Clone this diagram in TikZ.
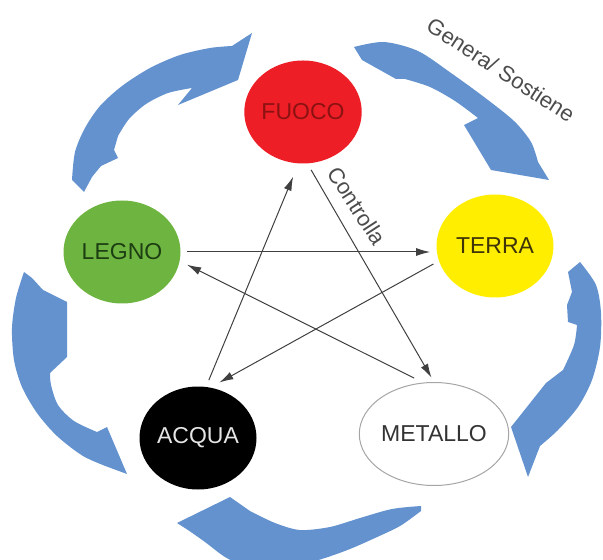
\documentclass[tikz,border=0pt]{standalone}
\usepackage{fontspec}
\setmainfont{Liberation Sans}
\usetikzlibrary{arrows.meta,shapes.geometric}

\definecolor{genblue}{RGB}{99,146,207}
\definecolor{fuocored}{RGB}{237,30,38}
\definecolor{fuocotext}{RGB}{140,18,18}
\definecolor{legnogreen}{RGB}{110,180,64}
\definecolor{legnotext}{RGB}{28,62,18}
\definecolor{terrayellow}{RGB}{255,238,0}
\definecolor{terratext}{RGB}{62,52,8}
\definecolor{metallogray}{RGB}{165,165,165}

\begin{document}
\begin{tikzpicture}[x=0.5pt,y=-0.5pt,
  elem/.style={ellipse,minimum width=58.5pt,minimum height=51.5pt,inner sep=0pt,
    font=\fontsize{11.5}{13}\selectfont},
  ctrl/.style={draw=black!75,line width=0.5pt,-{Latex[length=7pt,width=4pt]},
    shorten <=3pt,shorten >=3pt},
  lbl/.style={text=black!70,font=\fontsize{11}{13}\selectfont},
  genarrow/.style={fill=genblue}]

\useasboundingbox (0,0) rectangle (603,560);
\clip (0,0) rectangle (603,560);

\fill[genarrow] plot[smooth] coordinates {(72,180) (75,152) (85,128) (100,106) (122,86) (150,68) (180,55) (210,48) (232,46)}
  -- (252,33) -- (238,80) -- (178,105)
  -- plot[smooth] coordinates {(192,88) (168,93) (146,104) (129,119) (118,136)}
  -- (114,150) -- (118,158) -- (101,166)
  -- plot[smooth] coordinates {(92,177) (84,192)} -- cycle;

\fill[genarrow] plot[smooth] coordinates {(354,47) (384,42) (418,51) (451,73) (484,97) (514,121) (531,142) (538,162)}
  -- (549,180) -- (491,170) -- (464,125)
  -- plot[smooth] coordinates {(478,118) (455,101) (430,87) (405,79)}
  -- (396,79) -- (362,60) -- cycle;

\fill[genarrow] plot[smooth] coordinates {(580,262) (596,285) (601,313) (600,347) (592,380) (578,407) (558,430) (540,446)}
  -- (528,477) -- (511,427) -- (546,383)
  -- plot[smooth] coordinates {(563,370) (574,345) (577,325)}
  -- (568,322) -- (567,305)
  -- plot[smooth] coordinates {(572,292) (568,272)} -- cycle;

\fill[genarrow] plot[smooth] coordinates {(421,511) (400,526) (375,538) (350,549) (325,558) (300,565) (270,569) (245,566) (225,557) (205,542) (188,530)}
  -- (177,523) -- (230,497)
  -- plot[smooth] coordinates {(250,511) (275,523) (300,530) (330,527) (360,518) (392,509) (421,506)} -- cycle;

\fill[genarrow] plot[smooth] coordinates {(24,272) (16,298) (12,328) (14,360) (22,387) (37,413) (57,436) (83,456) (108,467)}
  -- (127,474) -- (107,427)
  -- plot[smooth] coordinates {(97,432) (74,421) (58,405) (51,385) (50,373)}
  -- (67,357) -- (67,302) -- (43,290) -- (32,278) -- cycle;

\node[elem,fill=fuocored,text=fuocotext] (fuoco) at (303,112) {FUOCO};
\node[elem,fill=legnogreen,text=legnotext] (legno) at (122,252) {LEGNO};
\node[elem,fill=terrayellow,text=terratext] (terra) at (495,246) {TERRA};
\node[elem,fill=black,text=black!10] (acqua) at (198,438) {ACQUA};
\node[elem,draw=metallogray,line width=0.5pt,fill=white,text=black!80] (metallo) at (434,434) {METALLO};

\draw[ctrl] (legno.east) -- (legno.east -| terra.west);
\draw[ctrl,shorten >=5pt] (terra.195) -- (acqua.76);
\draw[ctrl,shorten <=3.5pt,shorten >=7pt] (acqua.81) -- (fuoco.265);
\draw[ctrl,shorten <=3.5pt,shorten >=2.5pt] (fuoco.275) -- (metallo.north);
\draw[ctrl,shorten <=5pt,shorten >=4pt] (metallo.102) -- (legno.351);

\node[lbl,rotate=-57] (controlla) at (357,206) {Controlla};
\node[lbl,rotate=-33] (genera) at (501,70) {Genera/ Sostiene};

\end{tikzpicture}
\end{document}
